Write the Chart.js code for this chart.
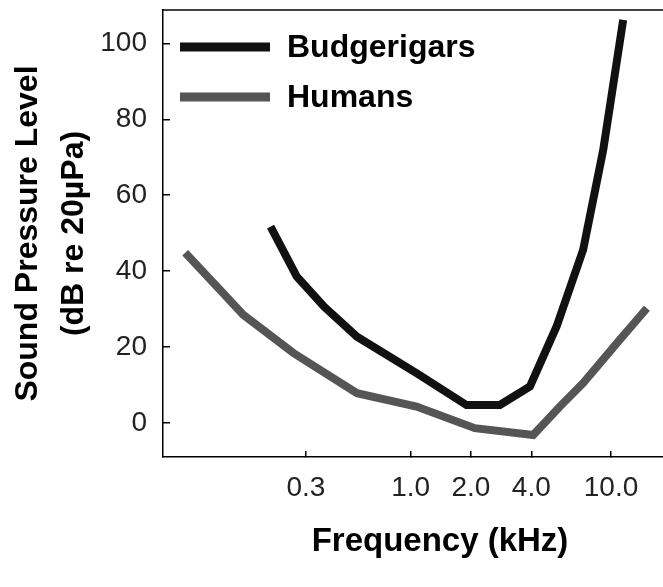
<!DOCTYPE html>
<html>
<head>
<meta charset="utf-8">
<script src="https://cdn.jsdelivr.net/npm/chart.js@4/dist/chart.umd.min.js"></script>
<style>
html, body { margin: 0; padding: 0; background: #fff; overflow: hidden; }
#wrap { width: 717px; height: 587px; }
</style>
</head>
<body>
<div id="wrap"><canvas id="chart"></canvas></div>
<script>
// Data -----------------------------------------------------------------------------------

var X_TICKS = [0.3, 1.0, 2.0, 4.0, 10.0];
var Y_TICKS = [0, 20, 40, 60, 80, 100];

var BUDGIE_FREQ = [0.20, 0.27, 0.37, 0.54, 1.07, 1.90, 2.79, 3.94, 5.35, 7.26, 9.14, 11.5];
var BUDGIE_SPL  = [51.7, 38.6, 30.6, 22.7, 13.1, 4.7, 4.7, 9.6, 25.4, 45.6, 71.9, 106.2];

var HUMAN_FREQ = [0.075, 0.112, 0.146, 0.26, 0.54, 1.07, 2.09, 4.09, 5.56, 7.26, 10.7, 15.1];
var HUMAN_SPL  = [44.8, 35.0, 28.5, 18.4, 7.8, 4.3, -1.4, -3.2, 4.3, 10.5, 21.0, 30.2];

// Constants ------------------------------------------------------------------------------

var FONT = '"Liberation Sans", Arial, sans-serif';
var LINE_WIDTH = 8;

// Functions ------------------------------------------------------------------------------

function toPoints(xs, ys) {
    return xs.map(function (x, i) { return { x: x, y: ys[i] }; });
}

function noScalePadding(scale) {
    scale.paddingTop = 0;
    scale.paddingBottom = 0;
    scale.paddingLeft = 0;
    scale.paddingRight = 0;
}

// top border of the plot box
var frameTop = {
    id: 'frameTop',
    afterDraw: function (chart) {
        var ctx = chart.ctx, area = chart.chartArea;
        ctx.save();
        ctx.strokeStyle = '#000';
        ctx.lineWidth = 1.5;
        ctx.beginPath();
        ctx.moveTo(area.left, area.top);
        ctx.lineTo(area.right, area.top);
        ctx.stroke();
        ctx.restore();
    }
};

// legend drawn inside the plot, long line swatches
var insideLegend = {
    id: 'insideLegend',
    afterDatasetsDraw: function (chart) {
        var ctx = chart.ctx, area = chart.chartArea;
        chart.data.datasets.forEach(function (ds, i) {
            var y = area.top + 37 + i * 50;
            ctx.save();
            ctx.strokeStyle = ds.borderColor;
            ctx.lineWidth = 9;
            ctx.beginPath();
            ctx.moveTo(area.left + 17, y);
            ctx.lineTo(area.left + 107, y);
            ctx.stroke();
            ctx.fillStyle = '#000';
            ctx.font = 'bold 32px ' + FONT;
            ctx.textBaseline = 'middle';
            ctx.fillText(ds.label, area.left + 124, y + 1);
            ctx.restore();
        });
    }
};

var context = document.getElementById('chart').getContext('2d');

var chart = new Chart(context, {
    type: 'line',
    data: {
        datasets: [{
            label: 'Budgerigars',
            data: toPoints(BUDGIE_FREQ, BUDGIE_SPL),
            borderColor: '#111111',
            borderWidth: LINE_WIDTH,
            pointRadius: 0,
            tension: 0
        }, {
            label: 'Humans',
            data: toPoints(HUMAN_FREQ, HUMAN_SPL),
            borderColor: '#555555',
            borderWidth: LINE_WIDTH,
            pointRadius: 0,
            tension: 0
        }]
    },
    options: {
        responsive: true,
        maintainAspectRatio: false,
        animation: false,
        layout: { autoPadding: false, padding: { top: 10, left: 0, right: 0, bottom: 0 } },
        plugins: {
            legend: { display: false },
            tooltip: { enabled: false }
        },
        scales: {
            x: {
                type: 'logarithmic',
                min: 0.0581,
                max: 33.8,
                afterBuildTicks: function (scale) {
                    scale.ticks = X_TICKS.map(function (v) { return { value: v }; });
                },
                afterFit: function (scale) {
                    scale.height = 130;
                    noScalePadding(scale);
                },
                border: { display: true, color: '#000', width: 1.5 },
                grid: { drawOnChartArea: false, drawTicks: true, tickLength: -6, tickColor: '#000', lineWidth: 1.5 },
                ticks: {
                    padding: 20,
                    maxRotation: 0,
                    autoSkip: false,
                    color: '#222',
                    font: { family: FONT, size: 28 },
                    callback: function (v) { return Number(v).toFixed(1); }
                },
                title: {
                    display: true,
                    text: 'Frequency (kHz)',
                    color: '#000',
                    font: { family: FONT, size: 33, weight: 'bold' },
                    padding: { top: 0, bottom: 25 }
                }
            },
            y: {
                min: -9,
                max: 108.8,
                afterBuildTicks: function (scale) {
                    scale.ticks = Y_TICKS.map(function (v) { return { value: v }; });
                },
                afterFit: function (scale) {
                    scale.width = 163;
                    noScalePadding(scale);
                },
                border: { display: true, color: '#000', width: 1.5 },
                grid: { drawOnChartArea: false, drawTicks: true, tickLength: -7, tickColor: '#000', lineWidth: 1.5 },
                ticks: {
                    padding: 23,
                    color: '#222',
                    font: { family: FONT, size: 28 }
                },
                title: {
                    display: true,
                    text: ['Sound Pressure Level', '(dB re 20\u00b5Pa)'],
                    color: '#000',
                    font: { family: FONT, size: 32, weight: 'bold', lineHeight: 1.45 },
                    padding: { top: 5, bottom: 0 }
                }
            }
        }
    },
    plugins: [frameTop, insideLegend]
});
</script>
</body>
</html>
